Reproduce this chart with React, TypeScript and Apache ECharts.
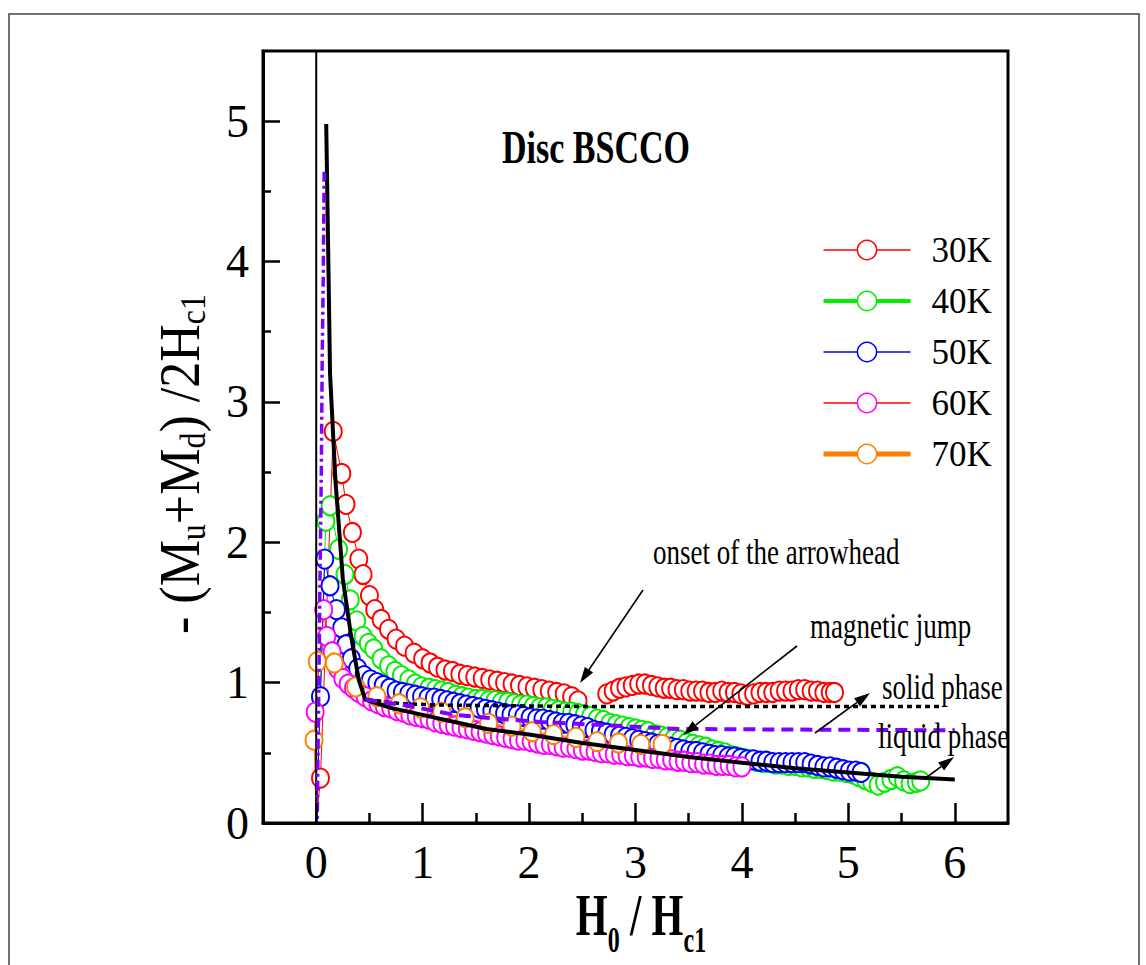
import React, { useEffect, useRef } from "react";
import * as echarts from "echarts";

const SERIF = "'Liberation Serif', 'Times New Roman', Times, serif";

// axis ticks / labels
const xMajorTicks = [0, 1, 2, 3, 4, 5, 6];
const xMinorTicks = [0.5, 1.5, 2.5, 3.5, 4.5, 5.5];
const yMajorTicks = [0, 1, 2, 3, 4, 5];
const yMinorTicks = [0.5, 1.5, 2.5, 3.5, 4.5];

const seriesNames = ["30K", "40K", "50K", "60K", "70K"];
const markerColors = ["#ff0000", "#00ee00", "#0000ff", "#ff00ff", "#ff7f00"];
const legendLineColors = ["#ff0000", "#00ee00", "#0000ff", "#ff0000", "#ff7f00"];
const legendLineWidths = [1.5, 4, 1.5, 1.5, 5];

// 30K (red) — two runs with a gap around H0/Hc1 ≈ 2.6
const k30a = [
  [0.0, 0.0], [0.04, 0.32], [0.16, 2.79], [0.24, 2.49], [0.28, 2.27], [0.34, 2.07], [0.4, 1.88], [0.44, 1.77],
  [0.5, 1.62], [0.55, 1.52], [0.61, 1.45], [0.68, 1.38], [0.75, 1.31], [0.83, 1.26], [0.92, 1.21], [1.0, 1.17],
  [1.07, 1.14], [1.14, 1.11], [1.21, 1.09], [1.28, 1.08], [1.35, 1.06], [1.42, 1.05], [1.49, 1.04], [1.56, 1.03],
  [1.63, 1.02], [1.7, 1.01], [1.77, 1.0], [1.84, 0.99], [1.91, 0.98], [1.98, 0.97], [2.05, 0.96], [2.12, 0.95],
  [2.19, 0.94], [2.26, 0.93], [2.33, 0.92], [2.4, 0.9], [2.46, 0.87],
];
const k30b = [
  [2.73, 0.92], [2.79, 0.94], [2.85, 0.96], [2.91, 0.97], [2.97, 0.98], [3.03, 0.99], [3.09, 0.99], [3.15, 0.98],
  [3.21, 0.97], [3.27, 0.96], [3.33, 0.96], [3.39, 0.95], [3.45, 0.95], [3.51, 0.94], [3.57, 0.94], [3.63, 0.94],
  [3.69, 0.93], [3.75, 0.93], [3.81, 0.94], [3.87, 0.93], [3.93, 0.93], [3.99, 0.92], [4.05, 0.91], [4.11, 0.92],
  [4.17, 0.93], [4.23, 0.93], [4.29, 0.93], [4.35, 0.94], [4.41, 0.94], [4.47, 0.94], [4.53, 0.95], [4.59, 0.95],
  [4.65, 0.94], [4.71, 0.94], [4.77, 0.93], [4.83, 0.93], [4.87, 0.93],
];
// 40K (green)
const k40 = [
  [0.0, 0.0], [0.09, 2.15], [0.13, 2.26], [0.21, 1.95], [0.27, 1.77], [0.32, 1.59], [0.38, 1.44], [0.44, 1.33],
  [0.49, 1.28], [0.54, 1.24], [0.61, 1.17], [0.68, 1.12], [0.74, 1.08], [0.8, 1.05], [0.87, 1.02], [0.93, 0.99],
  [0.99, 0.97], [1.06, 0.96], [1.12, 0.95], [1.18, 0.94], [1.24, 0.93], [1.31, 0.91], [1.37, 0.9], [1.43, 0.89],
  [1.5, 0.88], [1.56, 0.88], [1.62, 0.87], [1.68, 0.87], [1.74, 0.86], [1.8, 0.86], [1.86, 0.85], [1.92, 0.84],
  [1.98, 0.84], [2.04, 0.83], [2.1, 0.82], [2.16, 0.82], [2.22, 0.81], [2.28, 0.8], [2.34, 0.79], [2.4, 0.79],
  [2.46, 0.78], [2.52, 0.77], [2.58, 0.76], [2.64, 0.74], [2.7, 0.73], [2.76, 0.71], [2.82, 0.7], [2.88, 0.69],
  [2.94, 0.68], [3.0, 0.67], [3.06, 0.66], [3.12, 0.65], [3.18, 0.63], [3.24, 0.62], [3.3, 0.61], [3.36, 0.6],
  [3.42, 0.59], [3.48, 0.57], [3.54, 0.56], [3.6, 0.55], [3.66, 0.54], [3.72, 0.52], [3.78, 0.51], [3.84, 0.5],
  [3.9, 0.48], [3.96, 0.47], [4.02, 0.46], [4.08, 0.45], [4.14, 0.44], [4.2, 0.43], [4.26, 0.43], [4.32, 0.42],
  [4.38, 0.42], [4.44, 0.41], [4.5, 0.41], [4.56, 0.4], [4.62, 0.4], [4.68, 0.39], [4.74, 0.39], [4.8, 0.38],
  [4.86, 0.37], [4.92, 0.37], [4.98, 0.36], [5.04, 0.35], [5.1, 0.33], [5.16, 0.31], [5.22, 0.29], [5.28, 0.27],
  [5.34, 0.29], [5.4, 0.31], [5.46, 0.33], [5.52, 0.3], [5.58, 0.28], [5.64, 0.29], [5.68, 0.3],
];
// 50K (blue)
const k50 = [
  [0.0, 0.0], [0.04, 0.9], [0.08, 1.88], [0.13, 1.69], [0.19, 1.52], [0.24, 1.39], [0.28, 1.27], [0.33, 1.17],
  [0.39, 1.1], [0.45, 1.05], [0.51, 1.02], [0.57, 1.0], [0.63, 0.98], [0.69, 0.96], [0.75, 0.94], [0.81, 0.93],
  [0.87, 0.92], [0.93, 0.91], [0.99, 0.9], [1.05, 0.89], [1.11, 0.89], [1.17, 0.88], [1.23, 0.87], [1.29, 0.86],
  [1.35, 0.85], [1.41, 0.84], [1.47, 0.83], [1.53, 0.82], [1.59, 0.81], [1.65, 0.8], [1.71, 0.79], [1.77, 0.78],
  [1.83, 0.77], [1.89, 0.77], [1.95, 0.76], [2.01, 0.75], [2.07, 0.74], [2.13, 0.74], [2.19, 0.73], [2.25, 0.72],
  [2.31, 0.71], [2.37, 0.71], [2.43, 0.7], [2.49, 0.69], [2.55, 0.68], [2.61, 0.66], [2.67, 0.65], [2.73, 0.64],
  [2.79, 0.63], [2.85, 0.62], [2.91, 0.61], [2.97, 0.6], [3.03, 0.59], [3.09, 0.58], [3.15, 0.57], [3.21, 0.56],
  [3.27, 0.55], [3.33, 0.54], [3.39, 0.53], [3.45, 0.52], [3.51, 0.51], [3.57, 0.51], [3.63, 0.5], [3.69, 0.49],
  [3.75, 0.48], [3.81, 0.48], [3.87, 0.47], [3.93, 0.47], [3.99, 0.46], [4.05, 0.45], [4.11, 0.45], [4.17, 0.44],
  [4.23, 0.44], [4.29, 0.43], [4.35, 0.43], [4.41, 0.43], [4.47, 0.43], [4.53, 0.43], [4.59, 0.43], [4.65, 0.42],
  [4.71, 0.41], [4.77, 0.4], [4.83, 0.4], [4.89, 0.39], [4.95, 0.38], [5.01, 0.37], [5.07, 0.37], [5.12, 0.36],
];
// 60K (magenta)
const k60 = [
  [0.0, 0.0], [-0.01, 0.79], [0.07, 1.52], [0.1, 1.33], [0.15, 1.22], [0.2, 1.1], [0.25, 1.03], [0.3, 0.99],
  [0.35, 0.96], [0.4, 0.93], [0.46, 0.9], [0.52, 0.87], [0.58, 0.85], [0.64, 0.83], [0.7, 0.82], [0.76, 0.8],
  [0.82, 0.79], [0.88, 0.77], [0.94, 0.76], [1.0, 0.75], [1.06, 0.74], [1.12, 0.72], [1.18, 0.71], [1.24, 0.7],
  [1.3, 0.69], [1.36, 0.68], [1.42, 0.67], [1.48, 0.66], [1.54, 0.65], [1.6, 0.64], [1.66, 0.63], [1.72, 0.62],
  [1.78, 0.61], [1.84, 0.6], [1.9, 0.59], [1.96, 0.59], [2.02, 0.58], [2.08, 0.57], [2.14, 0.56], [2.2, 0.56],
  [2.26, 0.55], [2.32, 0.54], [2.38, 0.54], [2.44, 0.53], [2.5, 0.52], [2.56, 0.52], [2.62, 0.51], [2.68, 0.5],
  [2.74, 0.5], [2.8, 0.49], [2.86, 0.49], [2.92, 0.48], [2.98, 0.48], [3.04, 0.47], [3.1, 0.47], [3.16, 0.46],
  [3.22, 0.46], [3.28, 0.45], [3.34, 0.45], [3.4, 0.44], [3.46, 0.44], [3.52, 0.43], [3.58, 0.43], [3.64, 0.42],
  [3.7, 0.42], [3.76, 0.41], [3.82, 0.41], [3.88, 0.41], [3.94, 0.4], [4.0, 0.4],
];
// 70K (orange)
const k70 = [
  [0.0, 0.0], [-0.02, 0.59], [0.01, 1.15], [0.17, 1.14], [0.37, 0.97], [0.57, 0.9], [0.78, 0.85], [0.98, 0.82],
  [1.18, 0.79], [1.4, 0.75], [1.62, 0.71], [1.84, 0.69], [2.03, 0.65], [2.23, 0.63], [2.44, 0.61], [2.64, 0.58],
  [2.84, 0.57], [3.05, 0.56], [3.25, 0.56],
];

// model / guide curves
const liquidCurve = [
  [0.094, 4.98], [0.11, 4.2], [0.13, 3.2], [0.18, 2.45], [0.25, 1.74], [0.33, 1.32], [0.4, 1.02], [0.46, 0.88],
  [0.7, 0.82], [1.0, 0.77], [1.3, 0.72], [1.6, 0.67], [2.0, 0.63], [2.5, 0.57], [3.0, 0.52], [3.5, 0.47],
  [4.0, 0.43], [4.5, 0.39], [5.0, 0.36], [5.5, 0.33], [6.0, 0.31],
];
const solidPhase = [[0.48, 0.88], [0.8, 0.85], [1.2, 0.84], [2.5, 0.83], [5.88, 0.83]];
const jumpLine = [[0.46, 0.88], [0.9, 0.83], [1.3, 0.77], [1.6, 0.75], [2.1, 0.72], [2.9, 0.69], [3.4, 0.67], [6.0, 0.66]];
const jumpSpike = [[0.075, 4.64], [0.066, 3.88], [0.056, 3.29], [0.048, 2.5], [0.035, 1.7], [0.025, 1.0], [0.015, 0.4], [0.01, 0.0]];
const zeroLine = [[0, 0], [0, 5.5]];

const annotations = [
  { text: "onset of the arrowhead", x: 653, y: 551 },
  { text: "magnetic jump", x: 810, y: 625 },
  { text: "solid phase", x: 882, y: 686 },
  { text: "liquid phase", x: 878, y: 735 },
];
const arrows = [
  [[643, 590], [580, 683]],
  [[797, 646], [683, 735]],
  [[815, 733], [870, 693]],
  [[927, 777], [954, 757]],
];

function arrowEls(a: number[][]) {
  const [[x1, y1], [x2, y2]] = a;
  const dx = x2 - x1, dy = y2 - y1;
  const len = Math.hypot(dx, dy);
  const ux = dx / len, uy = dy / len;
  const L = 16, W = 5;
  const bx = x2 - ux * L, by = y2 - uy * L;
  return [
    { type: "line", silent: true, z: 100, shape: { x1, y1, x2: bx, y2: by }, style: { stroke: "#000", lineWidth: 1.6 } },
    {
      type: "polygon", silent: true, z: 100,
      shape: { points: [[x2, y2], [bx - uy * W, by + ux * W], [bx + uy * W, by - ux * W]] },
      style: { fill: "#000" },
    },
  ];
}

function markerSeries(name: string, data: number[][], color: string, lineColor: string, hideFirst: boolean) {
  return {
    type: "line",
    name,
    data,
    xAxisIndex: 0,
    yAxisIndex: 0,
    z: 2,
    symbol: hideFirst ? (_v: any, p: any) => (p.dataIndex === 0 ? "none" : "emptyCircle") : "emptyCircle",
    symbolSize: [17, 19],
    showSymbol: true,
    showAllSymbol: true,
    itemStyle: { color, borderWidth: 1.3 },
    lineStyle: { color: lineColor, width: 1 },
    emphasis: { disabled: true },
    silent: true,
  };
}

function curveSeries(name: string, data: number[][], color: string, width: number, type: any) {
  return {
    type: "line",
    name,
    data,
    symbol: "none",
    lineStyle: { color, width, type },
    emphasis: { disabled: true },
    silent: true,
    z: 20,
  };
}

export default function App() {
  const ref = useRef<HTMLDivElement>(null);
  useEffect(() => {
    const chart = echarts.init(ref.current as HTMLDivElement, null, { renderer: "svg" });
    const xCommon = { type: "value", min: -0.5, max: 6.5, splitNumber: 7, splitLine: { show: false }, position: "bottom" };
    const yCommon = { type: "value", min: 0, max: 5.5, splitNumber: 11, splitLine: { show: false }, position: "left" };
    const option: any = {
      animation: false,
      backgroundColor: "#fff",
      textStyle: { fontFamily: SERIF },
      grid: { left: 263, top: 51, right: 138, bottom: 142, show: true, borderColor: "#000", borderWidth: 3, backgroundColor: "transparent" },
      xAxis: [
        {
          ...xCommon,
          z: 30,
          axisLine: { show: true, onZero: false, lineStyle: { color: "#000", width: 3 } },
          axisTick: { show: true, inside: true, length: 20, customValues: xMajorTicks, lineStyle: { color: "#000", width: 2.5 } },
          axisLabel: { show: true, customValues: xMajorTicks, fontFamily: SERIF, fontSize: 46, color: "#000", margin: 16 },
        },
        {
          ...xCommon,
          z: 30,
          axisLine: { show: false, onZero: false },
          axisTick: { show: true, inside: true, length: 10, customValues: xMinorTicks, lineStyle: { color: "#000", width: 2.5 } },
          axisLabel: { show: false },
        },
      ],
      yAxis: [
        {
          ...yCommon,
          z: 30,
          axisLine: { show: true, onZero: false, lineStyle: { color: "#000", width: 3 } },
          axisTick: { show: true, inside: true, length: 17, customValues: yMajorTicks, lineStyle: { color: "#000", width: 2.5 } },
          axisLabel: { show: true, customValues: yMajorTicks, fontFamily: SERIF, fontSize: 46, color: "#000", margin: 14 },
        },
        {
          ...yCommon,
          z: 30,
          axisLine: { show: false, onZero: false },
          axisTick: { show: true, inside: true, length: 8, customValues: yMinorTicks, lineStyle: { color: "#000", width: 2.5 } },
          axisLabel: { show: false },
        },
      ],
      legend: {
        orient: "vertical",
        left: 816,
        top: 227,
        itemWidth: 87,
        itemHeight: 24,
        itemGap: 15,
        selectedMode: false,
        textStyle: { fontFamily: SERIF, fontSize: 35, color: "#000", lineHeight: 36, padding: [0, 0, 0, 16] },
        data: seriesNames.map((n, i) => ({
          name: n,
          lineStyle: { color: legendLineColors[i], width: legendLineWidths[i] },
          itemStyle: { color: "#ffffff", borderColor: markerColors[i], borderWidth: 1.5 },
        })),
      },
      series: [
        markerSeries(seriesNames[0], k30a, markerColors[0], "#ff0000", true),
        markerSeries(seriesNames[0], k30b, markerColors[0], "#ff0000", false),
        markerSeries(seriesNames[1], k40, markerColors[1], "#00ee00", true),
        markerSeries(seriesNames[2], k50, markerColors[2], "#0000ff", true),
        markerSeries(seriesNames[3], k60, markerColors[3], "#ff0000", true),
        markerSeries(seriesNames[4], k70, markerColors[4], "#ff7f00", true),
        curveSeries("zero", zeroLine, "#000", 2, "solid"),
        curveSeries("liquid", liquidCurve, "#000", 4, "solid"),
        curveSeries("solid", solidPhase, "#000", 3.5, [5, 4]),
        curveSeries("jump", jumpLine, "#7f00ff", 4, [12, 7]),
        curveSeries("jumpSpike", jumpSpike, "#7f00ff", 3.5, [10, 4, 3, 4]),
      ],
      graphic: [
        { type: "rect", silent: true, shape: { x: 9, y: 14, width: 1130, height: 1000 }, style: { fill: "none", stroke: "#444", lineWidth: 1.5 } },
        {
          type: "text", silent: true, x: 502, y: 147, scaleY: 1.38,
          style: { text: "Disc BSCCO", fontFamily: SERIF, fontSize: 34, fontWeight: "bold", fill: "#000", align: "left", verticalAlign: "middle" },
        },
        ...annotations.map((a) => ({
          type: "text", silent: true, x: a.x, y: a.y, scaleY: 1.35, z: 100,
          style: { text: a.text, fontFamily: SERIF, fontSize: 27, fill: "#000", align: "left", verticalAlign: "middle" },
        })),
        ...arrows.flatMap((a) => arrowEls(a)),
        {
          type: "text", silent: true, x: 641, y: 915, scaleY: 1.45,
          style: {
            text: "{m|H}{s|0}{m| / H}{s|c1}",
            align: "center", verticalAlign: "middle", fill: "#000",
            rich: {
              m: { fontFamily: SERIF, fontWeight: "bold", fontSize: 41, fill: "#000" },
              s: { fontFamily: SERIF, fontWeight: "bold", fontSize: 24, fill: "#000", padding: [34, 0, 0, 0] },
            },
          },
        },
        {
          type: "text", silent: true, x: 180, y: 634, rotation: Math.PI / 2, scaleY: 1.1,
          style: {
            text: "{m|- (M}{s|u}{m|+M}{s|d}{m|) /2H}{s|c1}",
            align: "left", verticalAlign: "middle", fill: "#000",
            rich: {
              m: { fontFamily: SERIF, fontSize: 52, fill: "#000" },
              s: { fontFamily: SERIF, fontSize: 32, fill: "#000", padding: [24, 0, 0, 0] },
            },
          },
        },
      ],
    };
    chart.setOption(option);
    return () => chart.dispose();
  }, []);
  return (
    <div
      ref={ref}
      style={{ position: "fixed", left: 0, top: 0, width: 1146, height: 965, background: "#fff" }}
    />
  );
}
